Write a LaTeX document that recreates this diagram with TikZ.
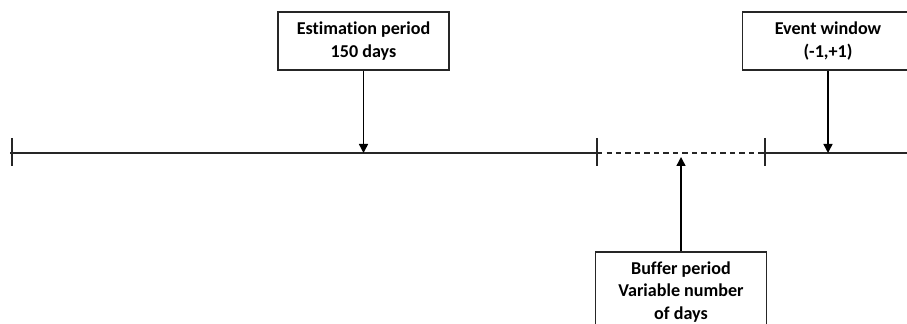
\documentclass[tikz,border=0pt]{standalone}
\usepackage{fontspec}
\setmainfont[Ligatures=NoCommon]{Carlito}
\usetikzlibrary{arrows.meta,positioning,calc}
\tikzset{
  period/.style={rectangle, draw=black!85, line width=0.8pt, fill=white, align=center,
                 font=\bfseries\fontsize{10.3}{13}\selectfont, minimum width=3.42cm,
                 minimum height=1.16cm, inner sep=2pt},
  arr/.style={-{Triangle[length=1.8mm,width=1.8mm]}, line width=0.85pt, draw=black},
  axis/.style={line width=0.8pt, draw=black!85},
}

\begin{document}
\begin{tikzpicture}
    \useasboundingbox (0,0) rectangle (18.14,-6.48);
    \clip (0,0) rectangle (18.14,-6.48);
    % timeline
    \coordinate (tstart) at (0.2,-3.06);
    \coordinate (t0) at (0.24,-3.06);
    \coordinate (t1) at (11.94,-3.06);
    \coordinate (t2) at (15.30,-3.06);
    \coordinate (tend) at (18.3,-3.06);
    \draw[axis] (tstart) -- (t1);
    \draw[axis, dash pattern=on 3pt off 2.4pt] (t1) -- (t2);
    \draw[axis] (t2) -- (tend);
    \foreach \t in {t0,t1,t2}
      \draw[axis] ([yshift=0.3cm]\t) -- ([yshift=-0.27cm]\t);
    % boxes
    \node[period] (est) at (7.27,-0.82) {Estimation period\\150 days};
    \node[period] (evt) at (16.56,-0.82) {Event window\\(-1,+1)};
    \node[period, minimum height=1.6cm] (buf) at (13.62,-5.84) {Buffer period\\Variable number\\of days};
    % arrows
    \draw[arr] (est) -- (est |- t0);
    \draw[arr] (evt) -- (evt |- t0);
    \draw[arr] (buf) -- ([yshift=-0.08cm]buf |- t0);
\end{tikzpicture}
\end{document}
